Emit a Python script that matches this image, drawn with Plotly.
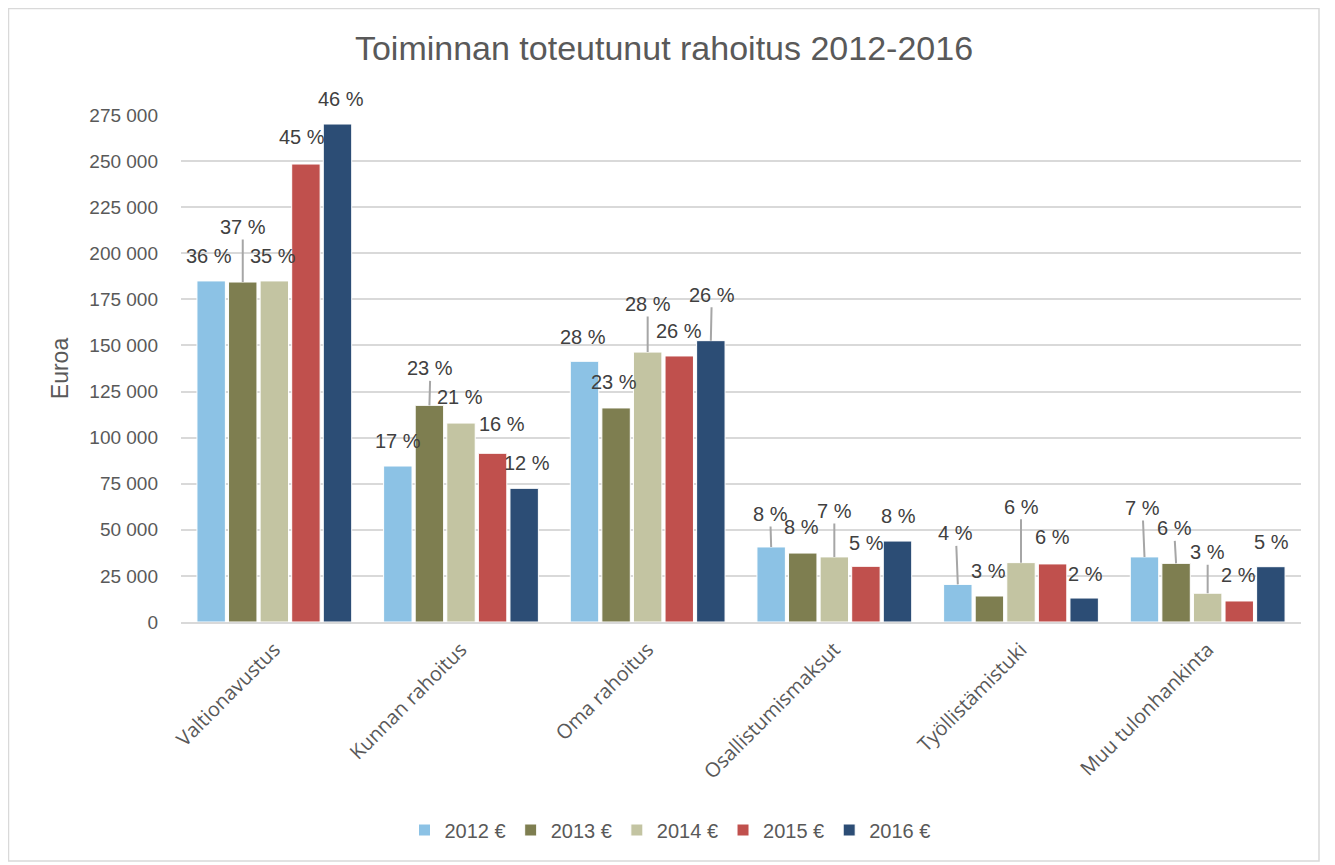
import plotly.graph_objects as go

categories = ['Valtionavustus', 'Kunnan rahoitus', 'Oma rahoitus',
              'Osallistumismaksut', 'Työllistämistuki', 'Muu tulonhankinta']
years = ['2012 €', '2013 €', '2014 €', '2015 €', '2016 €']

values_2012 = [185000, 84600, 141400, 40700, 20400, 35300]
values_2013 = [184400, 117500, 116100, 37400, 14100, 31800]
values_2014 = [185000, 107900, 146400, 35300, 32200, 15600]
values_2015 = [248400, 91500, 144300, 30200, 31500, 11400]
values_2016 = [270100, 72500, 152600, 43900, 13000, 30000]

pct_2012 = ['36 %', '17 %', '28 %', '8 %', '4 %', '7 %']
pct_2013 = ['37 %', '23 %', '23 %', '8 %', '3 %', '6 %']
pct_2014 = ['35 %', '21 %', '28 %', '7 %', '6 %', '3 %']
pct_2015 = ['45 %', '16 %', '26 %', '5 %', '6 %', '2 %']
pct_2016 = ['46 %', '12 %', '26 %', '8 %', '2 %', '5 %']

series = [values_2012, values_2013, values_2014, values_2015, values_2016]
pcts = [pct_2012, pct_2013, pct_2014, pct_2015, pct_2016]
colors = ['#8CC2E5', '#7E7E50', '#C3C4A2', '#C0504D', '#2C4D75']

# label placement (pixel offsets of the label centre from the bar top),
# leader line drawn when "line" is True -- indexed [year][category]
label_dx = [
    [-2, 0, -2, -1, -2, -2],
    [0, 1, -2, -1, -1, -2],
    [-1, -1, 0, 0, 0, 0],
    [-4, 9, 0, 1, 0, -1],
    [3, 3, 1, 1, 1, 1],
]
label_dy = [
    [-25, -25, -24, -33, -51, -49],
    [-55, -37, -26, -26, -25, -35],
    [-25, -26, -48, -46, -56, -41],
    [-27, -29, -25, -23, -27, -26],
    [-25, -25, -46, -25, -24, -25],
]
label_line = [
    [False, False, False, True, True, True],
    [True, True, False, False, False, True],
    [False, False, True, True, True, True],
    [False, False, False, False, False, False],
    [False, False, True, False, False, False],
]

FONT = 'Liberation Sans, Arial, sans-serif'
BARGAP = 0.154
n = len(years)

fig = go.Figure()
for i, (name, vals) in enumerate(zip(years, series)):
    fig.add_trace(go.Bar(
        x=categories, y=vals, name=name,
        marker=dict(color=colors[i], line=dict(color='white', width=1)),
        hoverinfo='x+y+name',
    ))

annotations = []
for i in range(n):
    for j in range(len(categories)):
        xpos = j + (i - (n - 1) / 2) * (1 - BARGAP) / n
        if label_line[i][j]:
            annotations.append(dict(
                x=xpos, y=series[i][j], xref='x', yref='y',
                text=pcts[i][j], showarrow=True, arrowhead=0,
                arrowwidth=2, arrowcolor='#A6A6A6', standoff=0,
                ax=label_dx[i][j], ay=label_dy[i][j],
                font=dict(family=FONT, size=20, color='#404040'),
            ))
        else:
            annotations.append(dict(
                x=xpos, y=series[i][j], xref='x', yref='y',
                text=pcts[i][j], showarrow=False,
                xshift=label_dx[i][j], yshift=-label_dy[i][j],
                font=dict(family=FONT, size=20, color='#404040'),
            ))

W, H = 1312, 854
ml, mr, mt, mb = 173, 19, 107, 240
pw, ph = W - ml - mr, H - mt - mb

fig.update_layout(
    width=W, height=H,
    margin=dict(l=ml, r=mr, t=mt, b=mb),
    paper_bgcolor='white', plot_bgcolor='white',
    separators=', ',
    barmode='group', bargap=BARGAP, bargroupgap=0.1,
    title=dict(text='Toiminnan toteutunut rahoitus 2012-2016',
               x=0.5, xanchor='center', y=1 - 40 / H, yanchor='middle',
               font=dict(family=FONT, size=34, color='#595959')),
    legend=dict(orientation='h', x=(662 - ml) / pw, xanchor='center',
                y=-208 / ph, yanchor='middle',
                font=dict(family=FONT, size=20, color='#595959'),
                itemwidth=30, traceorder='normal'),
    annotations=annotations,
    shapes=[dict(type='rect', xref='paper', yref='paper',
                 x0=-ml / pw + 0.5 / pw, x1=1 + mr / pw - 1 / pw,
                 y0=-mb / ph + 1 / ph, y1=1 + mt / ph - 0.5 / ph,
                 line=dict(color='#D9D9D9', width=1.5), layer='below')],
)
fig.update_yaxes(
    range=[0, 275000], dtick=25000, tickformat=',d',
    showgrid=True, gridcolor='#D9D9D9', gridwidth=1.5,
    zeroline=False, ticks='', showline=False, ticklabelstandoff=22,
    tickfont=dict(family=FONT, size=19, color='#595959'),
    title=dict(text='Euroa', standoff=14,
               font=dict(family=FONT, size=23, color='#595959')),
)
fig.update_xaxes(
    tickangle=-45, showline=True, linecolor='#D9D9D9', linewidth=2,
    ticks='', ticklabelstandoff=6,
    tickfont=dict(family='Open Sans, sans-serif', size=20, color='#595959'),
)

fig.write_html("out.html")
